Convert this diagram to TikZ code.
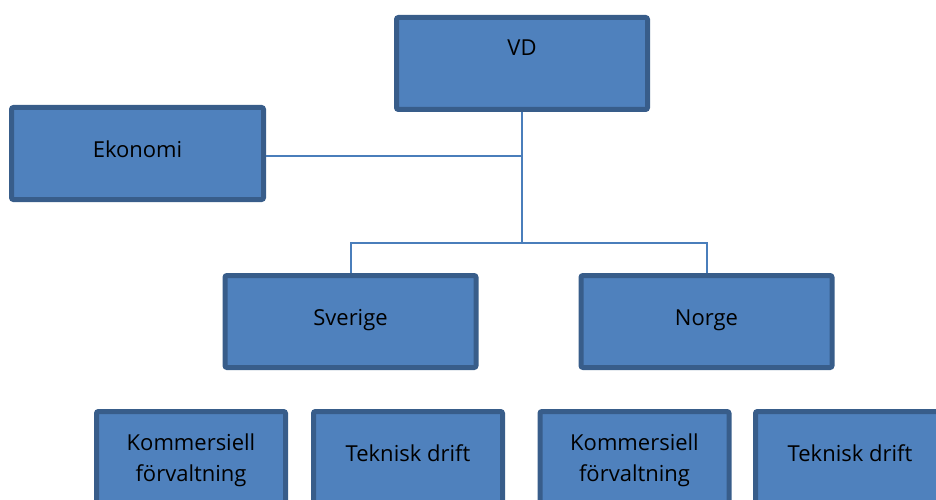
\documentclass[tikz,border=0pt]{standalone}
\usepackage{fontspec}
\setmainfont{Open Sans}
\usepackage{xcolor}
\usepackage{tikz}
\usetikzlibrary{calc,positioning}
\definecolor{boxfill}{HTML}{4F81BD}
\definecolor{boxline}{HTML}{385D8A}
\definecolor{linkline}{HTML}{4A7EBB}

\begin{document}
\begin{tikzpicture}[x=1pt,y=-1pt,
  orgbox/.style={draw=boxline, fill=boxfill, line width=5pt, rounded corners=2pt,
    minimum width=251pt, minimum height=92pt, align=center,
    font=\fontsize{22}{31}\selectfont, text height=16pt, text depth=9pt},
  subbox/.style={orgbox, minimum width=189pt},
  twoline/.style={text height=57pt},
  link/.style={draw=linkline, line width=2pt}]

  \useasboundingbox (0,0) rectangle (936,500);
  \clip (0,0) rectangle (936,500);

  \node[orgbox, text depth=32pt] (vd) at (522,63.5) {VD};
  \node[orgbox, minimum width=252pt] (eko) at (137.5,153.5) {Ekonomi};
  \node[orgbox] (sve) at (350.5,321.5) {Sverige};
  \node[orgbox] (nor) at (706.5,321.5) {Norge};

    \node[subbox, twoline] (sekom) at (191,457.5) {Kommersiell\\förvaltning};
    \node[subbox] (setek) at (408,457.5) {Teknisk drift};
    \node[subbox, twoline] (nokom) at (634.5,457.5) {Kommersiell\\förvaltning};
    \node[subbox] (notek) at (850,457.5) {Teknisk drift};

  \coordinate (hub) at (522,243);
  \coordinate (tap) at ($(eko.east)+(0,2.5)$);
  \draw[link] (vd.south) -- (hub);
  \draw[link] (tap) -- (tap -| vd.south);
  \draw[link] (sve.north) |- (hub) -| (nor.north);

\end{tikzpicture}
\end{document}
